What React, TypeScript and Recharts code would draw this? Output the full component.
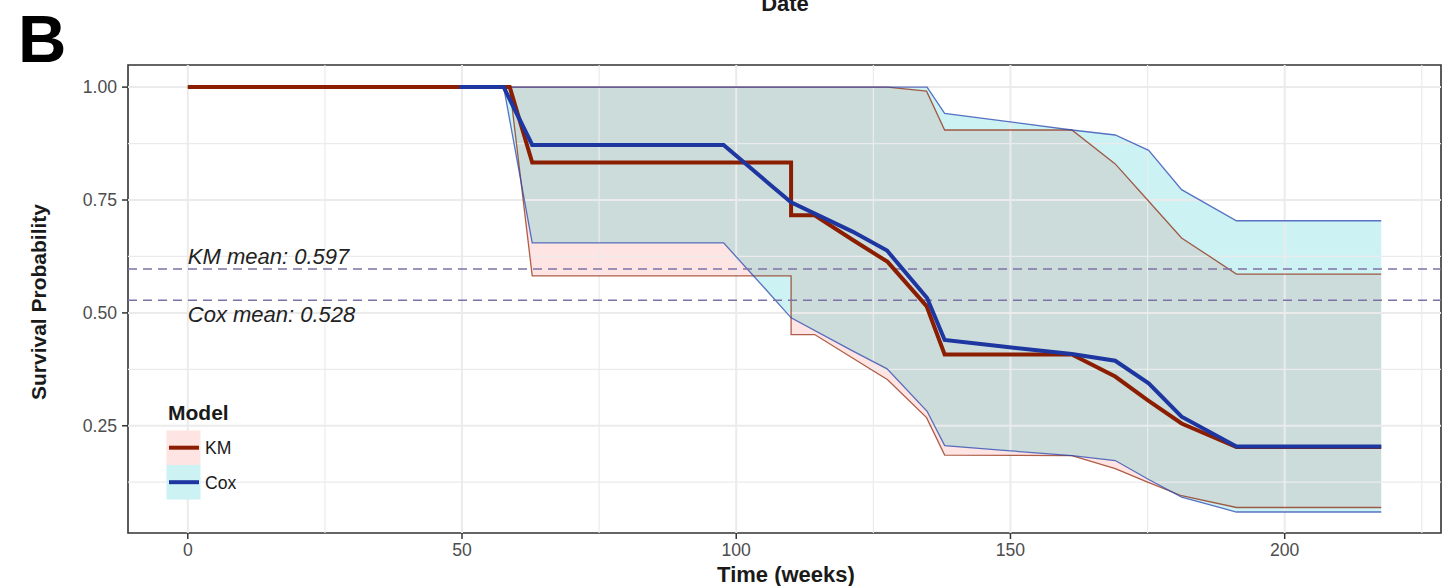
import { Area, ComposedChart, Legend, Line, ReferenceArea, ReferenceDot, ReferenceLine, XAxis, YAxis } from 'recharts';

const kmTime = [0, 58.7, 62.8, 110.0, 110.0, 114.3, 121.2, 127.6, 134.7, 138.0, 161.2, 169.1, 175.0, 181.2, 191.2, 217.6];
const kmSurv = [1, 1, 0.833, 0.833, 0.716, 0.716, 0.662, 0.613, 0.515, 0.408, 0.408, 0.359, 0.307, 0.255, 0.203, 0.203];
const kmLower = [1, 1, 0.582, 0.582, 0.452, 0.452, 0.4, 0.352, 0.268, 0.185, 0.184, 0.155, 0.125, 0.095, 0.069, 0.069];
const kmUpper = [1, 1, 1, 1, 1, 1, 1, 1, 0.991, 0.905, 0.905, 0.83, 0.75, 0.666, 0.586, 0.586];

const coxTime = [49.5, 57.6, 62.8, 97.7, 105.6, 110.0, 121.2, 127.5, 134.8, 138.0, 148.2, 161.2, 169.1, 175.2, 181.2, 191.2, 217.6];
const coxSurv = [1, 1, 0.872, 0.872, 0.79, 0.745, 0.68, 0.638, 0.533, 0.44, 0.426, 0.409, 0.394, 0.344, 0.27, 0.204, 0.204];
const coxLower = [1, 1, 0.655, 0.655, 0.549, 0.489, 0.416, 0.376, 0.282, 0.206, 0.196, 0.184, 0.173, 0.131, 0.092, 0.059, 0.059];
const coxUpper = [1, 1, 1, 1, 1, 1, 1, 1, 1, 0.942, 0.926, 0.905, 0.894, 0.86, 0.773, 0.704, 0.704];

const kmMean = 0.597;
const coxMean = 0.528;

const xTicks = [0, 50, 100, 150, 200];
const xMinor = [25, 75, 125, 175, 225];
const yTicks = [0.25, 0.5, 0.75, 1];
const yMinor = [0.125, 0.375, 0.625, 0.875];
const xDomain: [number, number] = [-10.9, 228.5];
const yDomain: [number, number] = [0.0125, 1.049];

const KM_COLOR = '#8B1E00';
const COX_COLOR = '#1E36A0';
const FONT = '"Liberation Sans", Arial, Helvetica, sans-serif';

const kmRows = kmTime.map((t, i) => ({ t, surv: kmSurv[i], lower: kmLower[i], upper: kmUpper[i], band: [kmLower[i], kmUpper[i]] }));
const coxRows = coxTime.map((t, i) => ({ t, surv: coxSurv[i], lower: coxLower[i], upper: coxUpper[i], band: [coxLower[i], coxUpper[i]] }));

const legendItems = [
  { name: 'KM', line: KM_COLOR, fill: '#FEE4E2' },
  { name: 'Cox', line: COX_COLOR, fill: '#CCF2F3' },
];

function ModelLegend() {
  return (
    <svg width={110} height={110} style={{ fontFamily: FONT, overflow: 'visible' }}>
      <text x={8} y={25} fontSize={21} fontWeight={700} fill="#1a1a1a">Model</text>
      {legendItems.map((item, i) => (
        <g key={item.name}>
          <rect x={6.5} y={35.5 + i * 34.5} width={34} height={34.5} fill={item.fill} />
          <line x1={9} x2={39} y1={52.7 + i * 34.5} y2={52.7 + i * 34.5} stroke={item.line} strokeWidth={4} />
          <text x={45} y={59 + i * 34.5} fontSize={17.6} fill="#1a1a1a">{item.name}</text>
        </g>
      ))}
    </svg>
  );
}

function meanLabel(text: string, dy: number) {
  return (props: any) => {
    const vb = props.viewBox || {};
    return (
      <text x={(vb.x ?? 0) + (vb.width ?? 0) / 2} y={(vb.y ?? 0) + (vb.height ?? 0) / 2 + dy} fontSize={22} fontStyle="italic" fill="#222" fontFamily={FONT}>
        {text}
      </text>
    );
  };
}

export default function App() {
  const tickStyle = { fontSize: 17.6, fill: '#4D4D4D', fontFamily: FONT };
  return (
    <div style={{ position: 'absolute', left: 0, top: 0, width: 1445, height: 586, background: '#fff' }}>
      <ComposedChart width={1445} height={586} margin={{ top: 65, right: 4, bottom: 13, left: 48 }}>
        <XAxis
          type="number"
          dataKey="t"
          domain={xDomain}
          ticks={xTicks}
          allowDataOverflow
          axisLine={false}
          tickLine={{ stroke: '#333', strokeWidth: 1.5 }}
          tickSize={6}
          tickMargin={5}
          height={40}
          tick={tickStyle}
        />
        <YAxis
          type="number"
          domain={yDomain}
          ticks={yTicks}
          allowDataOverflow
          axisLine={false}
          tickLine={{ stroke: '#333', strokeWidth: 1.5 }}
          tickSize={6}
          tickMargin={5}
          width={80}
          tick={tickStyle}
          tickFormatter={(v: number) => v.toFixed(2)}
        />
        {xMinor.map((x) => <ReferenceLine key={'xm' + x} x={x} stroke="#EBEBEB" strokeWidth={1.2} />)}
        {yMinor.map((y) => <ReferenceLine key={'ym' + y} y={y} stroke="#EBEBEB" strokeWidth={1.2} />)}
        {xTicks.map((x) => <ReferenceLine key={'x' + x} x={x} stroke="#EBEBEB" strokeWidth={2} />)}
        {yTicks.map((y) => <ReferenceLine key={'y' + y} y={y} stroke="#EBEBEB" strokeWidth={2} />)}

        <Area data={kmRows} dataKey="band" type="linear" fill="#F8766D" fillOpacity={0.2} stroke="none" isAnimationActive={false} />
        <Area data={coxRows} dataKey="band" type="linear" fill="#00BFC4" fillOpacity={0.2} stroke="none" isAnimationActive={false} />

        <Line data={kmRows} dataKey="lower" type="linear" stroke={KM_COLOR} strokeOpacity={0.7} strokeWidth={1.3} dot={false} isAnimationActive={false} />
        <Line data={kmRows} dataKey="upper" type="linear" stroke={KM_COLOR} strokeOpacity={0.7} strokeWidth={1.3} dot={false} isAnimationActive={false} />
        <Line data={coxRows} dataKey="lower" type="linear" stroke="#2845B0" strokeOpacity={0.75} strokeWidth={1.3} dot={false} isAnimationActive={false} />
        <Line data={coxRows} dataKey="upper" type="linear" stroke="#2845B0" strokeOpacity={0.75} strokeWidth={1.3} dot={false} isAnimationActive={false} />

        <ReferenceLine y={kmMean} stroke="#7D72A6" strokeWidth={1.5} strokeDasharray="9 6" />
        <ReferenceLine y={coxMean} stroke="#7D72A6" strokeWidth={1.5} strokeDasharray="9 6" />

        <Line data={kmRows} dataKey="surv" type="linear" stroke={KM_COLOR} strokeWidth={4} dot={false} isAnimationActive={false} />
        <Line data={coxRows} dataKey="surv" type="linear" stroke={COX_COLOR} strokeWidth={4} dot={false} isAnimationActive={false} />

        <ReferenceDot x={0} y={kmMean} r={0} fill="none" stroke="none" label={{ content: meanLabel('KM mean: 0.597', -5) }} />
        <ReferenceDot x={0} y={coxMean} r={0} fill="none" stroke="none" label={{ content: meanLabel('Cox mean: 0.528', 22) }} />

        <ReferenceArea x1={xDomain[0]} x2={xDomain[1]} y1={yDomain[0]} y2={yDomain[1]} fill="none" stroke="#333" strokeWidth={1.6} />

        <Legend layout="vertical" align="center" verticalAlign="middle" content={() => <ModelLegend />} wrapperStyle={{ left: 160, top: 395, width: 110, height: 110 }} />
      </ComposedChart>
      <svg width={1445} height={586} style={{ position: 'absolute', left: 0, top: 0, pointerEvents: 'none', fontFamily: FONT }}>
        <text x={18} y={62} fontSize={67} fontWeight={700} fill="#000">B</text>
        <text x={785} y={11} fontSize={22} fontWeight={700} fill="#1a1a1a" textAnchor="middle">Date</text>
        <text x={786} y={582} fontSize={22} fontWeight={700} fill="#1a1a1a" textAnchor="middle">Time (weeks)</text>
        <text transform="translate(46 302) rotate(-90)" fontSize={21} fontWeight={700} fill="#1a1a1a" textAnchor="middle">Survival Probability</text>
      </svg>
    </div>
  );
}
